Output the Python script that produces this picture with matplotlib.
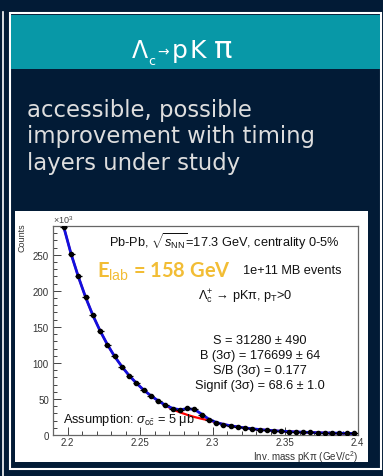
import matplotlib
matplotlib.use('Agg')
import matplotlib.pyplot as plt
from matplotlib.patches import Rectangle
from matplotlib.lines import Line2D
from matplotlib.ticker import MultipleLocator

W, H = 383, 477

# Lambda_c -> pKpi invariant mass histogram (counts in units of 10^3)
mass = [2.1975, 2.2025, 2.2075, 2.2125, 2.2175, 2.2225, 2.2275, 2.2325, 2.2375,
        2.2425, 2.2475, 2.2525, 2.2575, 2.2625, 2.2675, 2.2725, 2.2775, 2.2825,
        2.2875, 2.2925, 2.2975, 2.3025, 2.3075, 2.3125, 2.3175, 2.3225, 2.3275,
        2.3325, 2.3375, 2.3425, 2.3475, 2.3525, 2.3575, 2.3625, 2.3675, 2.3725,
        2.3775, 2.3825, 2.3875, 2.3925, 2.3975]
counts = [288, 251, 220, 191, 166, 144, 125, 109, 94, 82, 72, 62, 54, 47, 41,
          36, 35, 37, 36, 28, 21, 17, 14.5, 12.5, 11, 9.5, 8.5, 7.5, 6.5, 6,
          5.3, 4.8, 4.3, 3.9, 3.5, 3.2, 2.9, 2.7, 2.5, 2.3, 2.1]
# total fit (signal + background) and background-only fit at the bin centres
fit_total = [288, 251, 219.5, 191, 166, 144.5, 125.5, 109, 95, 82.5, 72, 62.5,
             54.5, 47.5, 41.5, 37, 35, 36.5, 35.5, 29, 22, 17.5, 14.8, 12.8,
             11.2, 9.8, 8.6, 7.6, 6.7, 6, 5.3, 4.8, 4.3, 3.9, 3.5, 3.2, 2.9,
             2.7, 2.5, 2.3, 2.1]
fit_bkg = [288, 251, 219.5, 191, 166, 144.5, 125.5, 109, 95, 82.5, 72, 62.5,
           54.5, 47.5, 41, 35.5, 31.5, 28, 25, 22.5, 20.3, 17.5, 14.8, 12.8,
           11.2, 9.8, 8.6, 7.6, 6.7, 6, 5.3, 4.8, 4.3, 3.9, 3.5, 3.2, 2.9,
           2.7, 2.5, 2.3, 2.1]
half_bin = 0.0025

x_ticks = [2.2, 2.25, 2.3, 2.35, 2.4]
x_labels = ['2.2', '2.25', '2.3', '2.35', '2.4']
y_ticks = [0, 50, 100, 150, 200, 250]

stats = ['S = 31280 ± 490',
         'B (3σ) = 176699 ± 64',
         'S/B (3σ) = 0.177',
         'Signif (3σ) = 68.6 ± 1.0']
bullet = ['accessible, possible', 'improvement with timing', 'layers under study']

NAVY = '#021b36'
TEAL = '#0898a7'
GOLD = '#f2bd35'

plt.rcParams['font.family'] = ['Liberation Sans', 'DejaVu Sans']
plt.rcParams['mathtext.fontset'] = 'custom'
plt.rcParams['mathtext.rm'] = 'Liberation Sans'
plt.rcParams['mathtext.it'] = 'Liberation Sans:italic'
plt.rcParams['mathtext.bf'] = 'Liberation Sans:bold'


def fx(px):
    return px / W


def fy(py):
    return 1 - py / H


def box(x0, y0, x1, y1, **kw):
    fig.patches.append(Rectangle((fx(x0), fy(y1)), fx(x1) - fx(x0), fy(y0) - fy(y1),
                                 transform=fig.transFigure, figure=fig, zorder=-2, **kw))


def vline(x, y0, y1, **kw):
    fig.lines.append(Line2D([fx(x), fx(x)], [fy(y0), fy(y1)],
                            transform=fig.transFigure, figure=fig, zorder=-1, **kw))


fig = plt.figure(figsize=(W / 100, H / 100), dpi=100, facecolor=NAVY)

# slide frame, header bar and white canvas
vline(3, 13, 477, color='white', lw=1.2)
box(9.5, 14, 380.5, 470, facecolor='none', edgecolor='white', lw=1.5)
box(10.5, 15.5, 379.5, 70, facecolor=TEAL, edgecolor='none')
box(15, 212, 368, 463, facecolor='white', edgecolor='none')

# header title, letters placed one by one to get the wide spacing
tfont = dict(color='white', family='DejaVu Sans', fontweight='normal',
             ha='left', va='baseline')
fig.text(fx(132), fy(58), 'Λ', fontsize=17, **tfont)
fig.text(fx(148), fy(65), 'c', fontsize=9, **tfont)
fig.text(fx(157), fy(56), '→', fontsize=10, **tfont)
fig.text(fx(172), fy(58), 'p', fontsize=18, **tfont)
fig.text(fx(190), fy(58), 'K', fontsize=18, **tfont)
fig.text(fx(214), fy(58), 'π', fontsize=22, **tfont)

for i, line in enumerate(bullet):
    fig.text(fx(27), fy(117 + 26.5 * i), line, fontsize=16.4, color='#dedede',
             family=['DejaVu Sans'], fontweight='normal', ha='left', va='baseline')

# histogram panel
ax = fig.add_axes([fx(53), fy(436), fx(357.5) - fx(53), fy(227) - fy(436)])
ax.set_facecolor('white')
ax.plot(mass, fit_bkg, color='red', lw=1.6, zorder=2)
ax.plot(mass, fit_total, color='#1010e0', lw=2.0, zorder=3)
ax.errorbar(mass, counts, xerr=half_bin, fmt='o', ms=3, color='black',
            elinewidth=0.9, capsize=0, zorder=4)

ax.set_xlim(2.19, 2.40)
ax.set_ylim(0, 290)
ax.set_xticks(x_ticks)
ax.set_xticklabels(x_labels)
ax.set_yticks(y_ticks)
ax.xaxis.set_minor_locator(MultipleLocator(0.01))
ax.yaxis.set_minor_locator(MultipleLocator(10))
ax.tick_params(which='both', direction='in', top=False, right=False,
               labelsize=7, labelcolor='#333333', color='#444444', width=0.7)
ax.tick_params(which='major', length=6)
ax.tick_params(axis='y', which='major', pad=3)
ax.tick_params(axis='x', which='major', pad=1.5)
ax.tick_params(which='minor', length=3)
for s in ax.spines.values():
    s.set_color('#666666')
    s.set_linewidth(0.9)

fig.text(fx(53), fy(224), r'×10$^{3}$', fontsize=6.5, color='#444444',
         ha='left', va='baseline')
fig.text(fx(22), fy(223), 'Counts', fontsize=6.5, color='#333333', rotation=90,
         ha='center', va='top')
fig.text(fx(358), fy(461), r'Inv. mass pKπ (GeV/c$^{2}$)', fontsize=7,
         color='#333333', ha='right', va='baseline')

txt = dict(color='#111111', ha='left', va='baseline')
fig.text(fx(109), fy(247), r'Pb-Pb, $\sqrt{s_{\rm NN}}$=17.3 GeV, centrality 0-5%',
         fontsize=9.2, **txt)
fig.text(fx(97), fy(278), r'E$_{\rm lab}$ = 158 GeV', fontsize=14.5, color=GOLD,
         fontweight='bold', family=['Lato', 'DejaVu Sans'], ha='left', va='baseline')
fig.text(fx(243), fy(274), '1e+11 MB events', fontsize=9.2, **txt)
fig.text(fx(198), fy(300), r'$\Lambda_{\rm c}^{+}$ → pKπ, p$_{\rm T}$>0',
         fontsize=9.2, **txt)
for i, line in enumerate(stats):
    fig.text(fx(260), fy(344 + 15 * i), line, fontsize=9.2, color='#111111',
             ha='center', va='baseline')
fig.text(fx(63), fy(423), r'Assumption: $\sigma_{\rm c\bar{c}}$ = 5 μb',
         fontsize=9.2, **txt)

fig.savefig('out.png', dpi=100, facecolor=NAVY)
